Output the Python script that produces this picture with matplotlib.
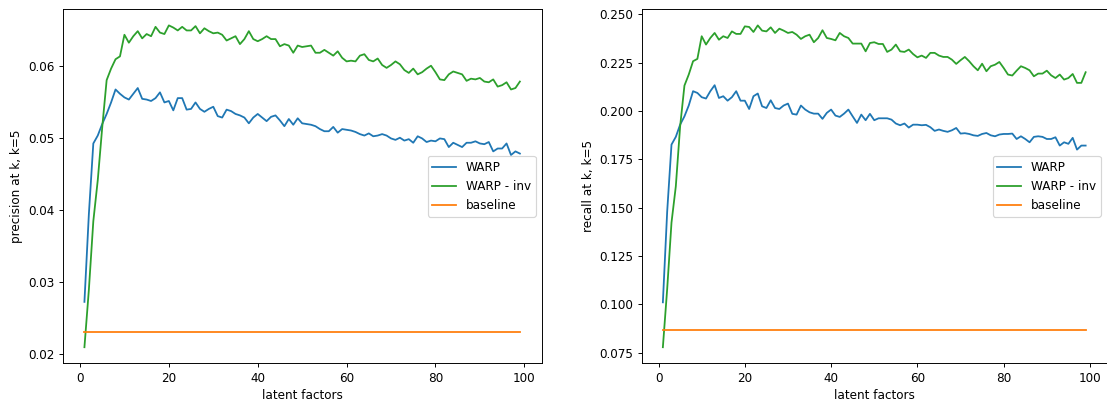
import numpy as np
import matplotlib
matplotlib.use('Agg')
import matplotlib.pyplot as plt

factors = list(range(1, 100))

# precision at k (k=5)
prec_warp = [0.0273, 0.0395, 0.0493, 0.0504, 0.0520, 0.0534, 0.0550, 0.0568, 0.0562, 0.0557,
             0.0554, 0.0562, 0.0570, 0.0555, 0.0554, 0.0552, 0.0556, 0.0564, 0.0550, 0.0552,
             0.0539, 0.0556, 0.0556, 0.0540, 0.0541, 0.0550, 0.0541, 0.0537, 0.0541, 0.0544,
             0.0531, 0.0529, 0.0540, 0.0538, 0.0534, 0.0532, 0.0529, 0.0521, 0.0529, 0.0534,
             0.0529, 0.0524, 0.0530, 0.0532, 0.0525, 0.0517, 0.0527, 0.0519, 0.0528, 0.0521,
             0.0520, 0.0519, 0.0517, 0.0513, 0.0510, 0.0510, 0.0516, 0.0508, 0.0513, 0.0512,
             0.0511, 0.0509, 0.0506, 0.0504, 0.0507, 0.0503, 0.0504, 0.0506, 0.0504, 0.0500,
             0.0498, 0.0501, 0.0497, 0.0499, 0.0494, 0.0503, 0.0500, 0.0495, 0.0497, 0.0496,
             0.0500, 0.0499, 0.0488, 0.0494, 0.0491, 0.0488, 0.0494, 0.0494, 0.0496, 0.0493,
             0.0492, 0.0495, 0.0482, 0.0486, 0.0486, 0.0493, 0.0477, 0.0482, 0.0479]
prec_inv = [0.0210, 0.0290, 0.0385, 0.0442, 0.0515, 0.0581, 0.0597, 0.0610, 0.0614, 0.0644,
            0.0633, 0.0642, 0.0649, 0.0639, 0.0645, 0.0642, 0.0655, 0.0647, 0.0645, 0.0657,
            0.0654, 0.0650, 0.0655, 0.0650, 0.0650, 0.0656, 0.0646, 0.0653, 0.0649, 0.0646,
            0.0647, 0.0644, 0.0636, 0.0639, 0.0642, 0.0631, 0.0638, 0.0649, 0.0638, 0.0635,
            0.0638, 0.0642, 0.0638, 0.0638, 0.0628, 0.0631, 0.0629, 0.0619, 0.0629, 0.0627,
            0.0628, 0.0629, 0.0619, 0.0619, 0.0623, 0.0619, 0.0615, 0.0621, 0.0612, 0.0607,
            0.0608, 0.0607, 0.0615, 0.0617, 0.0609, 0.0607, 0.0611, 0.0602, 0.0598, 0.0602,
            0.0607, 0.0603, 0.0595, 0.0591, 0.0597, 0.0589, 0.0592, 0.0597, 0.0601, 0.0592,
            0.0582, 0.0581, 0.0589, 0.0593, 0.0591, 0.0589, 0.0580, 0.0583, 0.0582, 0.0584,
            0.0579, 0.0578, 0.0582, 0.0572, 0.0574, 0.0578, 0.0568, 0.0570, 0.0579]
prec_base = 0.0231

# recall at k (k=5)
rec_warp = [0.1011, 0.1480, 0.1826, 0.1866, 0.1929, 0.1972, 0.2028, 0.2102, 0.2093, 0.2071,
            0.2064, 0.2102, 0.2133, 0.2067, 0.2076, 0.2053, 0.2071, 0.2102, 0.2053, 0.2053,
            0.2010, 0.2076, 0.2090, 0.2024, 0.2015, 0.2055, 0.2015, 0.2010, 0.2028, 0.2038,
            0.1985, 0.1981, 0.2028, 0.2007, 0.1993, 0.1986, 0.1986, 0.1959, 0.1990, 0.2007,
            0.1976, 0.1969, 0.1986, 0.2007, 0.1972, 0.1938, 0.1981, 0.1952, 0.1985, 0.1952,
            0.1962, 0.1962, 0.1962, 0.1955, 0.1935, 0.1926, 0.1935, 0.1914, 0.1929, 0.1929,
            0.1926, 0.1928, 0.1916, 0.1897, 0.1904, 0.1897, 0.1892, 0.1900, 0.1912, 0.1883,
            0.1885, 0.1881, 0.1874, 0.1871, 0.1881, 0.1886, 0.1874, 0.1869, 0.1878, 0.1881,
            0.1881, 0.1883, 0.1855, 0.1869, 0.1855, 0.1838, 0.1866, 0.1869, 0.1866, 0.1855,
            0.1855, 0.1864, 0.1821, 0.1838, 0.1830, 0.1861, 0.1800, 0.1821, 0.1821]
rec_inv = [0.0779, 0.1080, 0.1423, 0.1610, 0.1920, 0.2131, 0.2188, 0.2257, 0.2269, 0.2386,
           0.2343, 0.2377, 0.2403, 0.2368, 0.2386, 0.2377, 0.2411, 0.2398, 0.2398, 0.2437,
           0.2434, 0.2408, 0.2442, 0.2415, 0.2411, 0.2432, 0.2403, 0.2425, 0.2415, 0.2403,
           0.2408, 0.2394, 0.2372, 0.2386, 0.2394, 0.2355, 0.2377, 0.2417, 0.2377, 0.2372,
           0.2365, 0.2403, 0.2386, 0.2377, 0.2348, 0.2348, 0.2348, 0.2308, 0.2351, 0.2355,
           0.2346, 0.2346, 0.2305, 0.2317, 0.2343, 0.2308, 0.2305, 0.2317, 0.2294, 0.2277,
           0.2286, 0.2274, 0.2300, 0.2300, 0.2286, 0.2279, 0.2279, 0.2265, 0.2243, 0.2262,
           0.2279, 0.2257, 0.2231, 0.2210, 0.2244, 0.2205, 0.2231, 0.2239, 0.2253, 0.2222,
           0.2188, 0.2183, 0.2208, 0.2231, 0.2222, 0.2210, 0.2179, 0.2193, 0.2193, 0.2208,
           0.2184, 0.2170, 0.2188, 0.2162, 0.2170, 0.2191, 0.2145, 0.2145, 0.2200]
rec_base = 0.0868

# the reference looks like it was drawn at a lower dpi, so fonts and ticks are a bit smaller
dpi = 86
fig = plt.figure(figsize=(1107 / dpi, 403 / dpi), dpi=dpi)
ax1 = fig.add_axes([0.0566, 0.0985, 0.4327, 0.8784])
ax2 = fig.add_axes([0.5797, 0.0985, 0.4201, 0.8784])

ax1.plot(factors, prec_warp, color='tab:blue', label='WARP')
ax1.plot(factors, prec_inv, color='tab:green', label='WARP - inv')
ax1.plot(factors, [prec_base] * len(factors), color='tab:orange', label='baseline')
ax1.set_xlabel('latent factors')
ax1.set_ylabel('precision at k, k=5')
ax1.legend(loc='center right')

ax2.plot(factors, rec_warp, color='tab:blue', label='WARP')
ax2.plot(factors, rec_inv, color='tab:green', label='WARP - inv')
ax2.plot(factors, [rec_base] * len(factors), color='tab:orange', label='baseline')
ax2.set_xlabel('latent factors')
ax2.set_ylabel('recall at k, k=5')
ax2.legend(loc='center right')

fig.savefig('out.png', dpi=dpi)
